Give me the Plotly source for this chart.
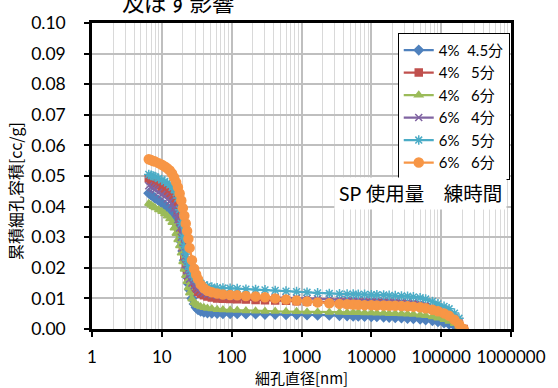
import plotly.graph_objects as go

# Pore diameter [nm] shared by all measurements
diameter_nm = [6.5, 7, 7.5, 8, 9, 10, 11, 12, 13, 14, 15, 16, 17, 18, 19, 20, 21, 22, 23, 24, 25,
               27, 29, 31, 33, 36, 40, 45, 52, 62, 75, 95, 120, 160, 220, 300, 420, 600, 850, 1200,
               1700, 2500, 3500, 4500, 5500, 6500, 8000, 10000, 12000, 15000, 18000, 22000, 27000,
               33000, 40000, 50000, 60000, 75000, 90000, 110000, 130000, 155000, 180000, 210000]

# Cumulative pore volume [cc/g]
sp4_t45 = [0.0444, 0.0438, 0.0433, 0.0428, 0.0420, 0.0412, 0.0405, 0.0397, 0.0388, 0.0377, 0.0364,
           0.0350, 0.0333, 0.0312, 0.0285, 0.0255, 0.0225, 0.0195, 0.0170, 0.0148, 0.0128, 0.0100,
           0.0082, 0.0070, 0.0063, 0.0058, 0.0055, 0.0053, 0.0052, 0.0051, 0.0050, 0.0050, 0.0050,
           0.0049, 0.0049, 0.0048, 0.0048, 0.0047, 0.0047, 0.0046, 0.0045, 0.0045, 0.0044, 0.0043,
           0.0042, 0.0042, 0.0041, 0.0040, 0.0040, 0.0039, 0.0038, 0.0037, 0.0036, 0.0035, 0.0034,
           0.0032, 0.0030, 0.0027, 0.0024, 0.0020, 0.0016, 0.0011, 0.0005, 0.0000]
sp4_t5 = [0.0493, 0.0488, 0.0483, 0.0478, 0.0470, 0.0462, 0.0455, 0.0447, 0.0440, 0.0430, 0.0418,
          0.0402, 0.0385, 0.0350, 0.0310, 0.0268, 0.0232, 0.0205, 0.0185, 0.0170, 0.0160, 0.0147,
          0.0138, 0.0130, 0.0122, 0.0115, 0.0110, 0.0106, 0.0103, 0.0100, 0.0099, 0.0098, 0.0097,
          0.0096, 0.0095, 0.0094, 0.0093, 0.0092, 0.0091, 0.0090, 0.0089, 0.0088, 0.0087, 0.0087,
          0.0086, 0.0086, 0.0085, 0.0085, 0.0084, 0.0084, 0.0083, 0.0082, 0.0081, 0.0080, 0.0078,
          0.0075, 0.0071, 0.0065, 0.0058, 0.0050, 0.0041, 0.0029, 0.0015, 0.0000]
sp4_t6 = [0.0410, 0.0405, 0.0400, 0.0396, 0.0390, 0.0384, 0.0377, 0.0369, 0.0360, 0.0348, 0.0330,
          0.0312, 0.0292, 0.0272, 0.0248, 0.0220, 0.0195, 0.0175, 0.0155, 0.0135, 0.0118, 0.0098,
          0.0087, 0.0081, 0.0077, 0.0073, 0.0070, 0.0068, 0.0066, 0.0064, 0.0063, 0.0062, 0.0061,
          0.0060, 0.0059, 0.0058, 0.0058, 0.0057, 0.0057, 0.0056, 0.0056, 0.0055, 0.0055, 0.0054,
          0.0054, 0.0054, 0.0053, 0.0053, 0.0052, 0.0052, 0.0051, 0.0051, 0.0050, 0.0049, 0.0048,
          0.0046, 0.0044, 0.0040, 0.0036, 0.0031, 0.0025, 0.0018, 0.0009, 0.0000]
sp6_t4 = [0.0468, 0.0463, 0.0459, 0.0455, 0.0447, 0.0440, 0.0433, 0.0425, 0.0417, 0.0407, 0.0395,
          0.0378, 0.0357, 0.0330, 0.0300, 0.0265, 0.0235, 0.0210, 0.0190, 0.0175, 0.0163, 0.0150,
          0.0141, 0.0134, 0.0128, 0.0122, 0.0117, 0.0114, 0.0112, 0.0110, 0.0109, 0.0108, 0.0107,
          0.0106, 0.0105, 0.0104, 0.0103, 0.0102, 0.0101, 0.0100, 0.0099, 0.0098, 0.0097, 0.0096,
          0.0096, 0.0095, 0.0095, 0.0094, 0.0094, 0.0093, 0.0092, 0.0091, 0.0090, 0.0089, 0.0087,
          0.0084, 0.0080, 0.0073, 0.0066, 0.0058, 0.0049, 0.0036, 0.0020, 0.0000]
sp6_t5 = [0.0505, 0.0502, 0.0500, 0.0498, 0.0492, 0.0487, 0.0482, 0.0477, 0.0470, 0.0463, 0.0456,
          0.0445, 0.0428, 0.0390, 0.0345, 0.0300, 0.0270, 0.0245, 0.0225, 0.0208, 0.0195, 0.0178,
          0.0168, 0.0162, 0.0157, 0.0150, 0.0144, 0.0140, 0.0137, 0.0135, 0.0134, 0.0133, 0.0132,
          0.0130, 0.0129, 0.0128, 0.0126, 0.0124, 0.0122, 0.0120, 0.0118, 0.0116, 0.0115, 0.0114,
          0.0114, 0.0113, 0.0113, 0.0112, 0.0112, 0.0111, 0.0110, 0.0109, 0.0108, 0.0107, 0.0105,
          0.0102, 0.0098, 0.0090, 0.0082, 0.0074, 0.0066, 0.0052, 0.0035, 0.0000]
sp6_t6 = [0.0555, 0.0552, 0.0549, 0.0547, 0.0542, 0.0537, 0.0531, 0.0525, 0.0518, 0.0508, 0.0495,
          0.0480, 0.0463, 0.0443, 0.0420, 0.0395, 0.0370, 0.0345, 0.0320, 0.0295, 0.0265, 0.0225,
          0.0197, 0.0178, 0.0163, 0.0145, 0.0133, 0.0125, 0.0120, 0.0116, 0.0113, 0.0111, 0.0110,
          0.0108, 0.0106, 0.0104, 0.0100, 0.0096, 0.0093, 0.0090, 0.0087, 0.0084, 0.0082, 0.0081,
          0.0080, 0.0079, 0.0078, 0.0078, 0.0077, 0.0077, 0.0076, 0.0076, 0.0075, 0.0074, 0.0073,
          0.0071, 0.0068, 0.0063, 0.0058, 0.0051, 0.0043, 0.0030, 0.0016, 0.0000]

NB = "\u00a0"
series_names = ["4%" + NB * 2 + "4.5分", "4%" + NB * 3 + "5分", "4%" + NB * 3 + "6分",
                "6%" + NB * 3 + "4分", "6%" + NB * 3 + "5分", "6%" + NB * 3 + "6分"]
series_values = [sp4_t45, sp4_t5, sp4_t6, sp6_t4, sp6_t5, sp6_t6]
colors = ["#4F81BD", "#C0504D", "#9BBB59", "#8064A2", "#4BACC6", "#F79646"]
symbols = ["diamond", "square", "triangle-up", "x-thin-open", "asterisk-open", "circle"]
sizes = [7, 7, 7, 7, 8, 9]

x_ticks = [1, 10, 100, 1000, 10000, 100000, 1000000]
x_ticktext = ["1", "10", "100", "1000", "10000", "100000", "1000000"]

LATIN = "Lato, 'Noto Sans CJK JP'"
CJK = "'Noto Sans CJK JP'"

fig = go.Figure()
for name, vals, col, sym, sz in zip(series_names, series_values, colors, symbols, sizes):
    fig.add_trace(go.Scatter(
        x=diameter_nm, y=vals, name=name, mode="lines+markers",
        line=dict(color=col, width=2.25),
        marker=dict(symbol=sym, size=sz, color=col, line=dict(color=col, width=1.5)),
    ))

fig.update_layout(
    width=558, height=388,
    margin=dict(l=92, r=39, t=20, b=59),
    paper_bgcolor="white", plot_bgcolor="white",
    font=dict(family=LATIN, color="black", size=15),
    showlegend=True,
    legend=dict(x=0.997, y=0.968, xanchor="right", yanchor="top",
                bgcolor="white", bordercolor="black", borderwidth=1,
                font=dict(family=LATIN, size=15), tracegroupgap=0,
                itemwidth=30),
)

fig.update_xaxes(
    type="log", range=[0, 6],
    tickvals=x_ticks, ticktext=x_ticktext,
    showgrid=True, gridcolor="#BFBFBF", gridwidth=1.5,
    minor=dict(dtick="D1", showgrid=True, gridcolor="#D9D9D9", gridwidth=1, ticks=""),
    showline=True, linecolor="black", linewidth=2.5, mirror=True,
    ticks="outside", ticklen=5, tickwidth=2, tickcolor="black",
    ticklabelstandoff=6, tickfont=dict(size=17),
    zeroline=False,
)
fig.update_yaxes(
    range=[0, 0.10], dtick=0.01, tickformat=".2f",
    showgrid=True, gridcolor="#BFBFBF", gridwidth=1.5,
    showline=True, linecolor="black", linewidth=2.5, mirror=True,
    ticks="outside", ticklen=5, tickwidth=2, tickcolor="black",
    ticklabelstandoff=15, tickfont=dict(size=17.5),
    zeroline=False,
)

# Axis titles, chart title and the condition label
fig.add_annotation(text="累積細孔容積[cc/g]", xref="paper", yref="paper", x=-0.182, y=0.45,
                   textangle=-90, showarrow=False, font=dict(family=CJK, size=16),
                   xanchor="center", yanchor="middle")
fig.add_annotation(text="細孔直径[nm]", xref="paper", yref="paper", x=0.499, y=-0.16,
                   showarrow=False, font=dict(family=CJK, size=15),
                   xanchor="center", yanchor="middle")
fig.add_annotation(text="及ぼす影響", xref="paper", yref="paper", x=0.206, y=1.072,
                   showarrow=False, font=dict(family=CJK, size=22.5),
                   xanchor="center", yanchor="middle")
fig.add_annotation(text="SP 使用量" + "\u3000" + "練時間", xref="paper", yref="paper",
                   x=0.785, y=0.443, showarrow=False, font=dict(family=LATIN, size=19.5),
                   bgcolor="white", borderpad=4, xanchor="center", yanchor="middle")

fig.write_html("out.html")
